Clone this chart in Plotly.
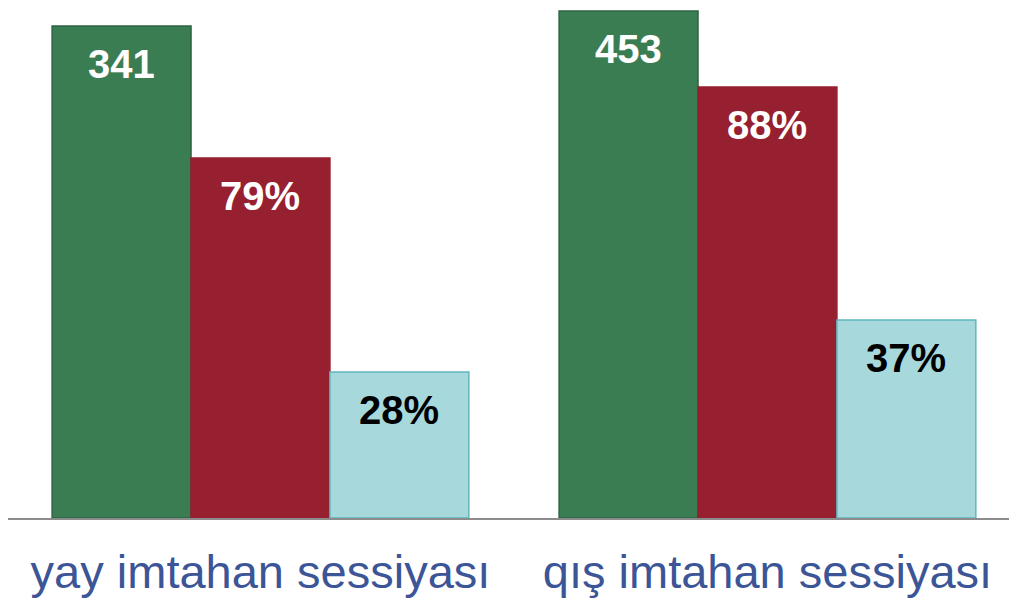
import plotly.graph_objects as go

categories = ["yay imtahan sessiyası", "qış imtahan sessiyası"]

# Bar heights as drawn (relative visual units)
green_heights = [492, 507]
red_heights = [360, 431]
blue_heights = [146, 198]

# Data labels shown on the bars
green_labels = ["341", "453"]
red_labels = ["79%", "88%"]
blue_labels = ["28%", "37%"]

series = [
    (green_heights, green_labels, "#3A7D52", "#2E6342", "white"),
    (red_heights, red_labels, "#961F30", "#961F30", "white"),
    (blue_heights, blue_labels, "#A6D8DC", "#5FB7BC", "black"),
]

fig = go.Figure()
bar_w = 0.274
offsets = [-bar_w, 0, bar_w]
annotations = []
for (h, labels, fill, line, tcol), off in zip(series, offsets):
    fig.add_trace(go.Bar(
        x=categories, y=h,
        marker=dict(color=fill, line=dict(color=line, width=1.5)),
        hoverinfo="skip", showlegend=False,
    ))
    for i, (v, lab) in enumerate(zip(h, labels)):
        annotations.append(dict(
            x=i + off, y=v, xref="x", yref="y", text="<b>" + lab + "</b>",
            showarrow=False, yanchor="top", yshift=-14,
            font=dict(family="Liberation Sans, Arial, sans-serif", size=40, color=tcol),
        ))

fig.update_layout(
    width=1017, height=600,
    margin=dict(l=0, r=0, t=0, b=90),
    paper_bgcolor="white", plot_bgcolor="white",
    barmode="group", bargap=0.178, bargroupgap=0,
    annotations=annotations,
    xaxis=dict(
        type="category", range=[-0.498, 1.508],
        showline=True, linecolor="#8C8C8C", linewidth=2,
        showgrid=False, ticks="", ticklabelstandoff=12,
        tickfont=dict(family="Liberation Sans, Arial, sans-serif", size=47, color="#3C5597"),
    ),
    yaxis=dict(range=[0, 510], visible=False, showgrid=False),
)

fig.write_html("out.html")
